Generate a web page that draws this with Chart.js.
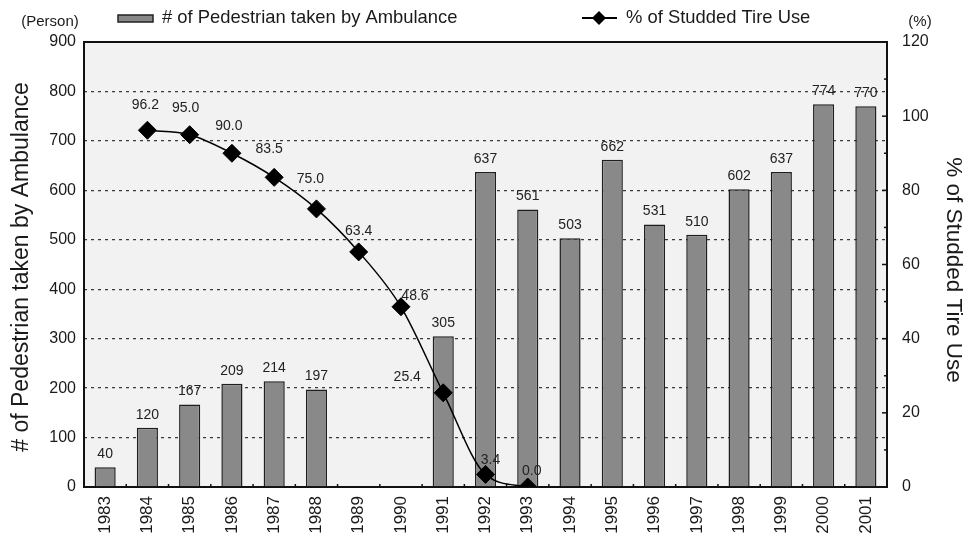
<!DOCTYPE html>
<html lang="en">
  <head>
    <meta charset="UTF-8" />
    <title>Pedestrians Taken by Ambulance and Studded Tire Use</title>
    <script src="https://cdn.jsdelivr.net/npm/chart.js"></script>
    <style>
      html,
      body {
        margin: 0;
        padding: 0;
        background: #fff;
      }
      #wrap {
        width: 964px;
        height: 533px;
      }
    </style>
  </head>
  <body>
    <div id="wrap"><canvas id="chart" width="964" height="533"></canvas></div>

    <script>
      // Data
      const years = [
        "1983", "1984", "1985", "1986", "1987", "1988", "1989", "1990", "1991", "1992",
        "1993", "1994", "1995", "1996", "1997", "1998", "1999", "2000", "2001",
      ];
      const pedestrians = [
        40, 120, 167, 209, 214, 197, null, null, 305, 637,
        561, 503, 662, 531, 510, 602, 637, 774, 770,
      ];
      const studdedTirePct = [
        null, 96.2, 95.0, 90.0, 83.5, 75.0, 63.4, 48.6, 25.4, 3.4,
        0.0, null, null, null, null, null, null, null, null,
      ];
      const leftTickStep = 100;
      const rightTickStep = 20;

      // where each % label sits relative to its marker (dx, dy)
      const pctLabelShift = [
        null, [-2, -25], [-4, -27], [-3, -27], [-5, -28], [-6, -30], [0, -21], [14, -11], [-36, -16], [5, -14],
        [4, -16],
      ];

      const FONT = "'Liberation Sans', Arial, sans-serif";
      const INK = "#1a1a1a";

      const decorations = {
        id: "decorations",
        beforeDraw(chart) {
          const { ctx, chartArea: a } = chart;
          ctx.save();
          ctx.fillStyle = "#f2f2f2";
          ctx.fillRect(a.left, a.top, a.right - a.left, a.bottom - a.top);
          ctx.restore();
        },
        beforeDatasetsDraw(chart) {
          const { ctx, chartArea: a, scales } = chart;
          ctx.save();
          // frame
          ctx.strokeStyle = "#111";
          ctx.lineWidth = 2;
          ctx.strokeRect(a.left, a.top, a.right - a.left, a.bottom - a.top);
          // small ticks between categories on the bottom edge
          ctx.lineWidth = 1.5;
          const x = scales.x;
          const half = (x.getPixelForValue(1) - x.getPixelForValue(0)) / 2;
          for (let i = 0; i < years.length - 1; i++) {
            const px = x.getPixelForValue(i) + half;
            ctx.beginPath();
            ctx.moveTo(px, a.bottom);
            ctx.lineTo(px, a.bottom - 3);
            ctx.stroke();
          }
          // inward ticks on the right axis every 10 %
          const y1 = scales.y1;
          for (let v = 10; v < 120; v += 10) {
            const py = y1.getPixelForValue(v);
            ctx.beginPath();
            ctx.moveTo(a.right, py);
            ctx.lineTo(a.right - (v % 20 === 0 ? 5 : 3), py);
            ctx.stroke();
          }
          ctx.restore();
        },
        afterDatasetsDraw(chart) {
          const { ctx } = chart;
          ctx.save();
          ctx.fillStyle = "#222";
          ctx.textAlign = "center";
          ctx.textBaseline = "middle";
          ctx.font = "14px " + FONT;

          // bar values
          const barMeta = chart.getDatasetMeta(1);
          barMeta.data.forEach((bar, i) => {
            if (pedestrians[i] == null) return;
            ctx.fillText(String(pedestrians[i]), bar.x, bar.y - 13);
          });

          // line values
          const lineMeta = chart.getDatasetMeta(0);
          lineMeta.data.forEach((pt, i) => {
            if (studdedTirePct[i] == null) return;
            const s = pctLabelShift[i] || [0, -22];
            ctx.fillText(studdedTirePct[i].toFixed(1), pt.x + s[0], pt.y + s[1]);
          });
          ctx.restore();
        },
        afterDraw(chart) {
          const { ctx } = chart;
          ctx.save();
          ctx.fillStyle = INK;
          ctx.textBaseline = "middle";
          ctx.textAlign = "center";

          // unit captions
          ctx.font = "15px " + FONT;
          ctx.fillText("(Person)", 50, 22);
          ctx.fillText("(%)", 920, 22);

          // axis titles
          ctx.save();
          ctx.font = "23px " + FONT;
          ctx.translate(22, 267);
          ctx.rotate(-Math.PI / 2);
          ctx.fillText("# of Pedestrian taken by Ambulance", 0, 0);
          ctx.restore();
          ctx.save();
          ctx.font = "22.5px " + FONT;
          ctx.translate(953, 270);
          ctx.rotate(Math.PI / 2);
          ctx.fillText("% of Studded Tire Use", 0, 0);
          ctx.restore();

          // legend
          ctx.textAlign = "left";
          ctx.font = "18.4px " + FONT;
          ctx.fillStyle = "#888";
          ctx.strokeStyle = "#222";
          ctx.lineWidth = 1.5;
          ctx.fillRect(118, 15, 35, 7);
          ctx.strokeRect(118, 15, 35, 7);
          ctx.fillStyle = INK;
          ctx.fillText("# of Pedestrian taken by Ambulance", 162, 18);

          ctx.strokeStyle = "#000";
          ctx.lineWidth = 2;
          ctx.beginPath();
          ctx.moveTo(582, 18);
          ctx.lineTo(617, 18);
          ctx.stroke();
          ctx.fillStyle = "#000";
          ctx.beginPath();
          ctx.moveTo(599, 11);
          ctx.lineTo(606, 18);
          ctx.lineTo(599, 25);
          ctx.lineTo(592, 18);
          ctx.closePath();
          ctx.fill();
          ctx.fillStyle = INK;
          ctx.fillText("% of Studded Tire Use", 626, 18);
          ctx.restore();
        },
      };

      const tickFont = { family: FONT, size: 16 };

      new Chart(document.getElementById("chart").getContext("2d"), {
        data: {
          labels: years,
          datasets: [
            {
              type: "line",
              label: "% of Studded Tire Use",
              data: studdedTirePct,
              yAxisID: "y1",
              order: 0,
              borderColor: "#000",
              borderWidth: 1.5,
              cubicInterpolationMode: "monotone",
              pointStyle: "rectRot",
              pointRadius: 9,
              pointBackgroundColor: "#000",
              pointBorderColor: "#000",
              pointBorderWidth: 1,
            },
            {
              type: "bar",
              label: "# of Pedestrian taken by Ambulance",
              data: pedestrians,
              yAxisID: "y",
              order: 1,
              backgroundColor: "#898989",
              borderColor: "#1e1e1e",
              borderWidth: 1.5,
              barPercentage: 0.5,
              categoryPercentage: 1.0,
            },
          ],
        },
        options: {
          responsive: false,
          animation: false,
          devicePixelRatio: 1,
          layout: { padding: { top: 42, left: 0, right: 0, bottom: 0 } },
          plugins: {
            legend: { display: false },
            tooltip: { enabled: false },
          },
          scales: {
            x: {
              grid: { display: false },
              border: { display: false },
              ticks: {
                autoSkip: false,
                minRotation: 90,
                maxRotation: 90,
                padding: 1,
                color: INK,
                font: { family: FONT, size: 17 },
              },
              afterFit(scale) {
                scale.height = 46;
              },
            },
            y: {
              position: "left",
              min: 0,
              max: 900,
              ticks: { stepSize: leftTickStep, padding: 8, color: INK, font: tickFont },
              grid: {
                drawTicks: false,
                lineWidth: 1.3,
                color: (c) =>
                  c.tick && (c.tick.value === 0 || c.tick.value === 900) ? "rgba(0,0,0,0)" : "#3a3a3a",
              },
              border: { display: false, dash: [3, 4] },
              afterFit(scale) {
                scale.width = 84;
              },
            },
            y1: {
              position: "right",
              min: 0,
              max: 120,
              ticks: { stepSize: rightTickStep, padding: 15, color: INK, font: tickFont },
              grid: { drawOnChartArea: false, drawTicks: false },
              border: { display: false },
              afterFit(scale) {
                scale.width = 77;
              },
            },
          },
        },
        plugins: [decorations],
      });
    </script>
  </body>
</html>
